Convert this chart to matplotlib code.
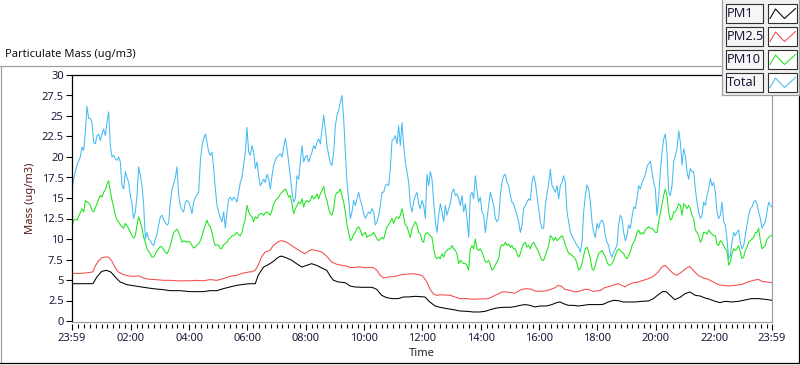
import numpy as np
import matplotlib
matplotlib.use("Agg")
import matplotlib.pyplot as plt
from matplotlib.patches import Rectangle

plt.rcParams['font.family'] = ['Noto Sans', 'DejaVu Sans']

# PM10 and Total are logged on a regular grid from 23:59 to 23:59 (~3.4 min step)
total = [16.1, 17.3, 18.2, 19.0, 19.5, 20.0, 21.2, 20.8, 23.0, 26.2,
         24.7, 24.7, 24.2, 21.8, 21.6, 22.6, 22.8, 22.0, 22.8, 23.4,
         22.6, 24.2, 25.5, 21.4, 20.0, 20.2, 19.8, 19.6, 20.0, 19.4,
         16.5, 16.1, 18.2, 17.5, 16.9, 15.3, 14.3, 12.5, 13.3, 15.3,
         18.8, 17.8, 16.5, 14.1, 10.0, 10.8, 10.0, 9.8, 9.4, 9.2,
         10.0, 10.6, 11.7, 12.7, 12.9, 12.3, 12.0, 11.7, 11.9, 14.5,
         16.1, 16.7, 17.5, 18.8, 15.3, 14.1, 13.5, 13.3, 14.5, 14.7,
         14.5, 13.9, 13.1, 14.5, 15.1, 15.4, 15.7, 19.4, 21.4, 22.2,
         22.8, 21.8, 20.6, 20.2, 20.6, 18.6, 16.1, 14.1, 13.3, 12.5,
         12.1, 13.3, 11.3, 13.3, 14.9, 15.1, 14.7, 15.1, 14.9, 14.5,
         15.7, 16.9, 17.5, 19.0, 20.6, 23.6, 20.6,
         20.2, 21.4, 20.6, 18.6, 19.4, 17.7, 16.5, 16.9, 17.3, 16.9,
         17.9, 17.3, 16.1, 17.7, 19.0, 19.6, 20.0, 20.2, 20.4, 20.0,
         21.2, 22.3, 21.0, 19.4, 17.7, 15.7, 14.5, 14.9, 17.7, 17.3,
         19.4, 21.4, 19.4, 20.0, 20.2, 19.4, 20.0, 20.6, 21.4, 21.0,
         21.8, 22.2, 21.6, 23.4, 25.1, 23.4, 21.4, 20.2, 19.2, 19.0,
         20.6, 23.8, 25.1, 25.7, 26.7, 27.5, 24.7, 20.6, 16.9, 14.9,
         12.5, 13.3, 14.7, 14.1, 14.9, 15.7, 14.7, 14.1, 13.1, 12.5,
         12.9, 13.3, 13.1, 13.7, 13.3, 11.7, 12.1, 12.9, 14.1, 15.7,
         15.7, 16.5, 16.7, 16.5, 18.6, 22.0, 22.2, 22.6, 21.6, 23.8,
         21.4, 24.2, 21.4, 19.4, 18.2, 16.9, 14.1, 13.3, 14.5, 15.3,
         15.7, 14.3, 13.7, 14.7, 14.1,
         12.5, 17.9, 16.5, 18.2, 17.3, 14.5, 12.1, 10.8, 12.9, 14.3,
         13.3, 12.1, 14.1, 12.9, 13.7, 14.3, 15.7, 16.1, 15.3, 15.5,
         14.9, 14.1, 15.3, 13.3, 14.3, 12.5, 10.2, 15.3, 15.7, 14.9,
         17.7, 15.9, 14.5, 15.1, 13.3, 12.9, 10.8, 12.5, 14.1, 15.7,
         14.9, 14.1, 12.5, 12.1, 12.5, 15.3, 16.9, 17.7, 17.9, 16.9,
         16.5, 15.3, 14.5, 14.3, 13.5, 12.9, 12.1, 10.8, 11.7, 13.7,
         14.1, 14.5, 14.9, 14.7, 16.9, 17.7, 16.9, 15.3, 13.7, 12.1,
         11.3, 11.3, 14.1, 15.5, 16.7, 18.5, 16.5, 16.1, 15.7, 16.5,
         14.9, 16.5, 16.9, 17.7, 16.9, 13.3, 12.1, 10.8, 10.4, 10.0,
         9.6, 9.2, 9.0, 8.4, 9.6, 13.3, 15.3, 16.6, 16.1, 14.5,
         12.1, 10.8, 10.2, 11.9, 11.3,
         12.1, 12.3, 11.9, 10.4, 9.6, 9.2, 8.2, 7.8, 8.4, 8.8,
         9.2, 11.7, 12.9, 12.5, 10.8, 9.8, 10.4, 11.7, 11.3, 12.7,
         13.9, 13.7, 14.9, 16.5, 16.1, 16.9, 17.3, 17.9, 18.8, 19.2,
         19.5, 18.2, 16.9, 16.1, 12.9, 14.9, 18.2, 20.6, 22.2, 22.8,
         20.6, 15.7, 15.3, 16.5, 19.4, 20.2, 21.0, 23.2, 21.8, 19.0,
         21.0, 20.2, 18.2, 17.3, 18.6, 18.2, 18.2, 16.1, 14.5, 13.3,
         12.5, 12.9, 14.5, 14.1, 15.3, 16.1, 17.4, 16.5, 16.9, 15.7,
         13.3, 12.5, 12.9, 14.5, 12.1, 11.7, 10.0, 7.6, 8.0, 9.6,
         10.8, 10.4, 10.8, 11.1, 9.6, 8.8, 9.2, 10.4, 11.7, 12.9,
         13.7, 13.9, 14.5, 14.7, 14.3, 13.3, 12.5, 11.3, 11.7, 12.1,
         13.3, 14.5, 14.1, 13.9]

pm10 = [11.5, 12.3, 12.4, 12.3, 12.8, 13.2, 13.7, 13.3, 14.7, 14.5,
        14.4, 14.1, 13.5, 13.3, 13.8, 14.3, 14.9, 15.3, 15.1, 15.7,
        16.0, 16.7, 17.1, 15.8, 14.7, 13.9, 12.9, 12.3, 12.1, 11.7,
        11.5, 11.3, 11.9, 11.6, 11.3, 10.8, 10.4, 10.1, 10.4, 11.7,
        12.7, 12.1, 11.3, 10.2, 9.6, 8.8, 8.5, 8.2, 7.8, 7.8,
        8.2, 8.6, 8.8, 9.1, 9.0, 8.7, 8.4, 8.2, 8.6, 9.2,
        10.0, 10.8, 11.0, 11.2, 10.8, 10.2, 9.6, 9.8, 9.7, 9.6,
        9.7, 9.6, 9.2, 8.9, 9.0, 9.3, 9.4, 9.8, 10.4, 11.1,
        11.7, 12.3, 11.7, 11.5, 10.8, 9.8, 9.2, 9.3, 9.2, 8.8,
        8.9, 9.3, 9.5, 9.6, 10.0, 10.1, 10.4, 10.4, 10.6, 10.8,
        10.5, 10.4, 10.8, 11.7, 12.5, 14.1, 13.3,
        12.9, 12.7, 12.1, 12.7, 12.5, 12.9, 13.1, 13.1, 12.9, 13.2,
        13.3, 13.1, 12.9, 13.5, 14.3, 14.7, 14.9, 15.1, 15.5, 15.7,
        15.9, 16.1, 15.7, 15.1, 15.3, 14.3, 13.1, 13.7, 14.1, 14.5,
        14.3, 14.9, 13.9, 14.5, 14.7, 14.5, 14.7, 15.3, 14.9, 15.1,
        15.5, 14.9, 15.5, 15.9, 16.4, 15.3, 14.7, 13.7, 13.1, 12.9,
        13.7, 15.3, 15.7, 15.7, 16.1, 15.3, 14.5, 13.3, 11.7, 10.8,
        9.8, 10.0, 10.6, 10.8, 11.3, 11.5, 11.1, 10.4, 10.6, 10.8,
        10.2, 10.4, 10.4, 10.6, 10.8, 10.4, 10.0, 9.8, 10.0, 10.2,
        10.0, 10.8, 11.5, 11.7, 12.1, 12.5, 11.9, 12.5, 12.7, 12.5,
        12.9, 13.7, 12.7, 11.7, 11.5, 10.8, 10.2, 11.3, 11.7, 12.1,
        11.7, 10.8, 10.6, 9.8, 9.6,
        10.6, 10.8, 10.6, 10.4, 10.2, 8.8, 7.8, 7.6, 7.8, 7.6,
        8.2, 7.8, 8.4, 8.6, 8.8, 8.8, 9.2, 8.8, 8.6, 8.2,
        7.0, 7.4, 7.2, 7.0, 7.0, 6.8, 6.2, 8.8, 9.2, 8.8,
        10.0, 8.8, 8.6, 8.8, 8.4, 7.8, 7.2, 7.2, 7.4, 6.8,
        6.2, 6.4, 6.8, 7.2, 7.6, 9.0, 9.3, 9.2, 9.6, 9.2,
        9.4, 9.0, 9.2, 8.8, 8.8, 8.2, 7.8, 8.2, 9.0, 9.4,
        9.6, 9.0, 9.2, 8.8, 9.4, 9.6, 9.2, 8.8, 8.4, 7.8,
        7.4, 7.4, 8.0, 8.6, 9.2, 10.4, 10.2, 9.8, 10.2, 9.8,
        10.0, 10.2, 10.4, 10.0, 9.2, 8.8, 8.2, 8.2, 8.0, 7.8,
        7.6, 7.0, 6.2, 6.4, 7.0, 8.0, 8.8, 9.0, 8.4, 7.6,
        6.4, 6.2, 6.8, 7.6, 8.2,
        8.4, 8.6, 8.2, 7.8, 7.2, 6.8, 6.8, 7.0, 7.4, 8.0,
        8.6, 8.8, 8.6, 8.4, 8.2, 7.8, 7.6, 8.0, 8.4, 9.2,
        9.6, 10.0, 10.8, 11.1, 10.6, 10.8, 10.6, 11.1, 11.3, 11.5,
        11.3, 11.3, 11.1, 10.8, 10.8, 12.1, 13.1, 14.3, 15.3, 16.1,
        15.3, 13.3, 12.3, 12.5, 13.3, 13.3, 13.7, 14.3, 14.1, 12.9,
        14.3, 14.1, 13.7, 14.1, 13.7, 12.9, 12.5, 11.1, 10.8, 10.4,
        9.6, 10.0, 10.8, 10.8, 10.6, 11.1, 10.8, 10.6, 10.4, 10.4,
        9.4, 9.2, 9.8, 9.6, 9.2, 8.8, 8.6, 6.8, 7.2, 8.2,
        8.8, 8.6, 8.8, 9.2, 8.4, 7.6, 7.8, 8.6, 9.0, 9.6,
        9.8, 10.0, 10.2, 10.8, 10.8, 11.3, 9.8, 8.8, 9.0, 9.2,
        10.0, 10.2, 10.4, 10.4]

# minutes after 23:59 and values for the smoother channels
pm1_min = [0, 43, 51, 61, 71, 80, 89, 99, 113, 130, 147, 167, 188, 202, 222, 243,
           270, 284, 298, 311, 325, 339, 353, 366, 377, 383, 394, 404, 414, 425,
           431, 442, 452, 462, 473, 483, 493, 503, 514, 524, 531, 538, 548, 562,
           572, 582, 596, 617, 627, 637, 647, 658, 671, 682, 692, 706, 726, 736,
           747, 757, 771, 784, 798, 812, 826, 839, 850, 856, 863, 874, 887, 901,
           911, 922, 932, 942, 952, 963, 976, 987, 997, 1004, 1011, 1021, 1031,
           1042, 1052, 1062, 1086, 1093, 1103, 1114, 1124, 1134, 1144, 1158, 1172,
           1186, 1196, 1206, 1216, 1223, 1234, 1240, 1251, 1261, 1271, 1282, 1292,
           1302, 1312, 1323, 1333, 1343, 1357, 1371, 1384, 1398, 1412, 1426, 1440]
pm1 = [4.55, 4.55, 5.36, 6.05, 6.18, 5.97, 5.36, 4.76, 4.43, 4.27, 4.11, 3.94, 3.82,
       3.70, 3.70, 3.58, 3.58, 3.70, 3.70, 3.94, 4.15, 4.35, 4.47, 4.55, 4.55, 5.57,
       6.58, 6.87, 7.27, 7.80, 7.92, 7.68, 7.40, 6.99, 6.58, 6.79, 6.99, 6.79, 6.46,
       6.18, 5.49, 4.96, 4.76, 4.67, 4.27, 4.15, 4.11, 4.11, 3.86, 3.13, 2.85, 2.73,
       2.73, 2.93, 2.93, 3.01, 2.93, 2.32, 1.83, 1.67, 1.51, 1.39, 1.22, 1.18, 1.10,
       1.10, 1.18, 1.30, 1.43, 1.59, 1.67, 1.67, 1.75, 1.91, 2.00, 1.91, 1.71, 1.83,
       1.83, 2.00, 2.24, 2.32, 2.12, 1.91, 1.91, 1.83, 1.91, 2.00, 2.00, 2.04, 2.32,
       2.52, 2.48, 2.32, 2.32, 2.32, 2.40, 2.44, 2.73, 3.21, 3.62, 3.54, 2.93, 2.60,
       2.89, 3.33, 3.54, 3.13, 3.05, 2.81, 2.65, 2.40, 2.24, 2.40, 2.32, 2.40, 2.56,
       2.73, 2.73, 2.65, 2.52]

pm25_min = [0, 17, 34, 43, 47, 54, 61, 68, 75, 82, 89, 95, 106, 116, 126, 137, 147,
            157, 171, 188, 202, 215, 229, 243, 257, 270, 284, 298, 311, 325, 339,
            353, 366, 370, 377, 383, 390, 397, 407, 414, 425, 431, 442, 452, 462,
            473, 479, 486, 493, 503, 514, 524, 534, 545, 555, 565, 572, 582, 593,
            603, 613, 620, 627, 634, 641, 651, 665, 678, 692, 702, 713, 719, 723,
            730, 736, 743, 750, 757, 767, 778, 788, 798, 812, 826, 836, 846, 856,
            863, 870, 877, 884, 894, 904, 911, 918, 925, 935, 946, 952, 963, 973,
            983, 994, 1000, 1007, 1014, 1024, 1035, 1045, 1055, 1062, 1072, 1086,
            1096, 1107, 1117, 1124, 1131, 1138, 1144, 1155, 1165, 1175, 1186, 1196,
            1206, 1213, 1220, 1227, 1237, 1244, 1254, 1264, 1271, 1278, 1288, 1299,
            1309, 1319, 1330, 1340, 1350, 1364, 1378, 1391, 1402, 1412, 1419, 1429,
            1440]
pm25 = [5.8, 5.8, 5.9, 6.0, 6.6, 7.3, 7.7, 7.8, 7.8, 7.3, 6.5, 6.0, 5.65, 5.5, 5.45,
        5.5, 5.25, 5.1, 5.05, 4.96, 4.96, 4.9, 4.9, 4.9, 4.96, 4.9, 5.05, 4.96, 5.16,
        5.45, 5.57, 5.85, 6.0, 6.0, 6.2, 6.8, 7.8, 8.4, 8.6, 9.2, 9.7, 9.8, 9.6, 9.2,
        8.8, 8.4, 8.2, 8.5, 8.7, 8.6, 8.4, 7.9, 7.2, 6.9, 6.8, 6.7, 6.5, 6.55, 6.6,
        6.5, 6.55, 6.5, 6.2, 5.57, 5.25, 5.36, 5.45, 5.65, 5.73, 5.77, 5.65, 5.57,
        5.36, 4.76, 3.94, 3.33, 3.13, 3.2, 3.17, 3.13, 2.93, 2.73, 2.73, 2.65, 2.69,
        2.69, 2.73, 2.89, 3.13, 3.3, 3.54, 3.54, 3.46, 3.38, 3.62, 3.86, 3.94, 3.86,
        3.66, 3.62, 3.66, 3.82, 4.07, 4.35, 4.23, 3.86, 3.74, 3.54, 3.66, 3.86, 3.86,
        3.62, 3.7, 4.07, 4.23, 4.43, 4.55, 4.35, 4.15, 4.43, 4.67, 4.76, 4.96, 5.16,
        5.45, 5.97, 6.58, 6.79, 6.38, 5.77, 5.57, 5.97, 6.46, 6.66, 6.18, 5.57, 5.25,
        5.08, 4.76, 4.43, 4.35, 4.27, 4.35, 4.47, 4.76, 4.96, 5.08, 4.84, 4.76, 4.67]

x_tick_min = [0, 121, 241, 361, 481, 601, 721, 841, 961, 1081, 1201, 1321, 1440]
x_tick_lab = ["23:59", "02:00", "04:00", "06:00", "08:00", "10:00", "12:00",
              "14:00", "16:00", "18:00", "20:00", "22:00", "23:59"]
y_ticks = [0, 2.5, 5, 7.5, 10, 12.5, 15, 17.5, 20, 22.5, 25, 27.5, 30]

names = ["PM1", "PM2.5", "PM10", "Total"]
colors = ["#000000", "#f44a4a", "#19e619", "#45bbf2"]

W, H = 800, 365
fig = plt.figure(figsize=(W / 100, H / 100), dpi=100)
fig.patch.set_facecolor("white")

grid_min = np.linspace(0, 1440, len(total))
grid10 = np.linspace(0, 1440, len(pm10))

ax = fig.add_axes([72 / W, 1 - 321 / H, 700 / W, 246 / H])
lw = 0.75
ax.plot(pm1_min, pm1, color=colors[0], lw=lw)
ax.plot(pm25_min, pm25, color=colors[1], lw=lw)
ax.plot(grid10, pm10, color=colors[2], lw=lw)
ax.plot(grid_min, total, color=colors[3], lw=lw)

ax.set_xlim(0, 1440)
ax.set_ylim(0, 30)
ax.set_yticks(y_ticks)
ax.set_yticklabels([f"{v:g}" for v in y_ticks])
ax.set_xticks(x_tick_min)
ax.set_xticklabels(x_tick_lab)
ax.set_xticks(np.arange(13, 1440, 12), minor=True)

tick_col = "#1a1a3a"
ax.tick_params(axis="y", direction="out", length=4, width=0.8, pad=2,
               labelsize=8, labelcolor=tick_col, color="black")
ax.tick_params(axis="x", which="major", direction="out", length=4, width=0.8,
               pad=2, labelsize=8, labelcolor=tick_col, color="black")
ax.tick_params(axis="x", which="minor", direction="out", length=3, width=0.8,
               color="black")

for s in ("top", "left"):
    ax.spines[s].set_color("black")
    ax.spines[s].set_linewidth(0.9)
ax.spines["right"].set_color("#a0a0a0")
ax.spines["right"].set_linewidth(0.9)
ax.spines["bottom"].set_position(("outward", 2.5))
ax.spines["bottom"].set_visible(False)

# overlay in pixel coordinates for frame, texts and legend
ov = fig.add_axes([0, 0, 1, 1])
ov.set_xlim(0, W)
ov.set_ylim(H, 0)
ov.axis("off")
ov.set_zorder(5)

gray = "#a0a0a0"
ov.plot([72, 772], [321.5, 321.5], color=gray, lw=0.9)
ov.plot([0, 722], [65.5, 65.5], color=gray, lw=0.9)
ov.plot([0.6, 0.6], [65.5, 363], color=gray, lw=0.9)
ov.plot([0, 799.4], [363.3, 363.3], color="black", lw=0.9)
ov.plot([799.4, 799.4], [95, 363.3], color="black", lw=0.9)

ov.text(5, 55, "Particulate Mass (ug/m3)", fontsize=8, color="#111111",
        ha="left", va="center")
ov.text(422, 354, "Time", fontsize=8, color="#222222", ha="center", va="center")
ov.text(31, 198, "Mass (ug/m3)", fontsize=8, color="#5c1a1f", rotation=90,
        ha="center", va="center")

# legend panel
ov.add_patch(Rectangle((722, 0), 78, 95, facecolor="#f0f0f0", edgecolor="none"))
ov.plot([722, 722], [0, 95], color=gray, lw=0.9)
ov.plot([722, 799.4], [95, 95], color=gray, lw=0.9)
ov.plot([799.4, 799.4], [0, 95], color=gray, lw=0.9)
for i, (name, col) in enumerate(zip(names, colors)):
    top = 3.5 + i * 23
    ov.add_patch(Rectangle((725.5, top), 37.5, 19.5, facecolor="#f6f6f6",
                           edgecolor="#303030", lw=0.8))
    ov.text(727, top + 10, name, fontsize=9.2, color=tick_col,
            ha="left", va="center")
    ov.add_patch(Rectangle((768, top), 29, 19.5, facecolor="white",
                           edgecolor="#303030", lw=0.8))
    ov.plot([770, 775.5, 784.5, 795.5],
            [top + 15, top + 5.5, top + 15, top + 5],
            color=col, lw=0.75)

fig.savefig("out.png", dpi=100)
